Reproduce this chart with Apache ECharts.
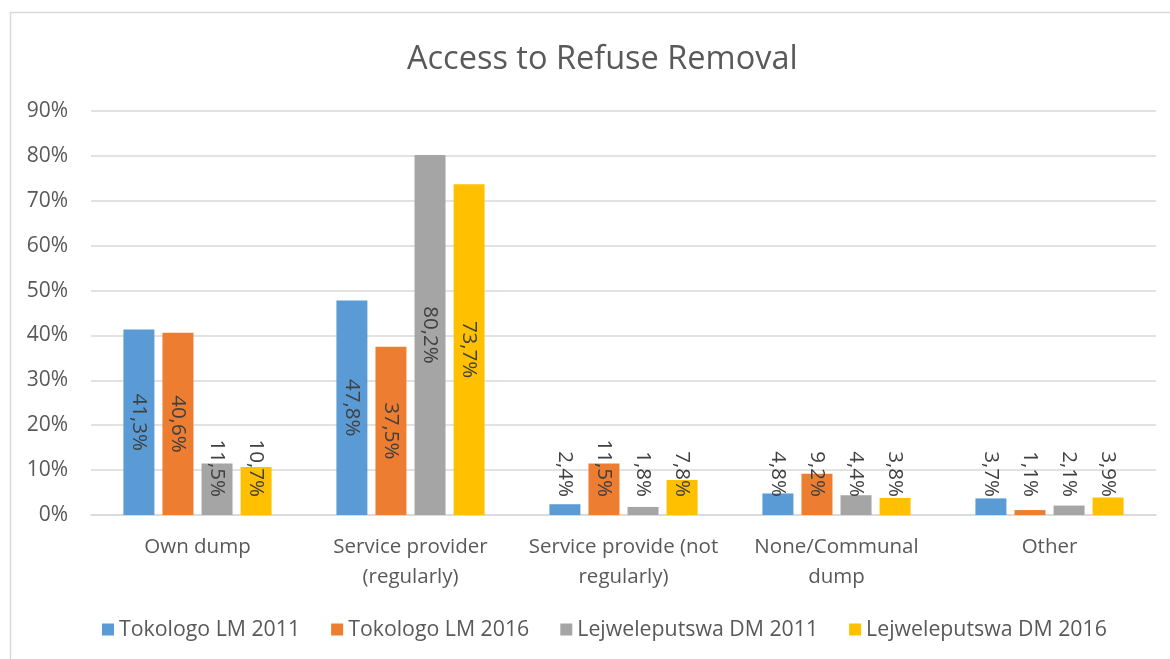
<!DOCTYPE html>
<html>
<head>
<meta charset="utf-8">
<script src="https://cdn.jsdelivr.net/npm/echarts@6/dist/echarts.min.js"></script>
<style>
  html, body { margin: 0; padding: 0; background: #ffffff; }
  #chart { width: 1170px; height: 659px; }
</style>
</head>
<body>
<div id="chart"></div>
<script>
const categories = ['Own dump', 'Service provider\n(regularly)', 'Service provide (not\nregularly)', 'None/Communal\ndump', 'Other'];
const seriesNames = ['Tokologo LM 2011', 'Tokologo LM 2016', 'Lejweleputswa DM 2011', 'Lejweleputswa DM 2016'];
const tokologo2011 = [41.3, 47.8, 2.4, 4.8, 3.7];
const tokologo2016 = [40.6, 37.5, 11.5, 9.2, 1.1];
const lejwe2011 = [11.5, 80.2, 1.8, 4.4, 2.1];
const lejwe2016 = [10.7, 73.7, 7.8, 3.8, 3.9];
const yTicks = [0, 10, 20, 30, 40, 50, 60, 70, 80, 90];

const colors = ['#5B9BD5', '#ED7D31', '#A5A5A5', '#FFC000'];
const FONT = '"Open Sans", "Noto Sans", sans-serif';

const insideLabel = { position: 'inside', rotate: -90, align: 'center', verticalAlign: 'middle' };
const bottomLabel = { position: 'insideBottom', distance: 18, rotate: -90, align: 'right', verticalAlign: 'middle' };

function makeSeries(name, values, i) {
  return {
    name: name,
    type: 'bar',
    barWidth: 31,
    barGap: '26%',
    itemStyle: { color: colors[i] },
    label: {
      show: true,
      color: '#404040',
      fontSize: 20.5,
      fontFamily: FONT,
      formatter: p => p.value.toFixed(1).replace('.', ',') + '%'
    },
    data: values.map(v => ({ value: v, label: v >= 20 ? insideLabel : bottomLabel }))
  };
}

const chart = echarts.init(document.getElementById('chart'), null, { renderer: 'canvas' });
chart.setOption({
  backgroundColor: '#ffffff',
  animation: false,
  textStyle: { fontFamily: FONT },
  graphic: [{
    type: 'rect',
    shape: { x: 10.5, y: 12.5, width: 1300, height: 800 },
    style: { fill: 'none', stroke: '#D9D9D9', lineWidth: 1.5 },
    silent: true,
    z: -10
  }],
  title: {
    text: 'Access to Refuse Removal',
    left: 402,
    top: 38,
    textStyle: { fontFamily: FONT, fontSize: 32.5, fontWeight: 'normal', color: '#595959' }
  },
  legend: {
    bottom: 14,
    left: 97,
    icon: 'rect',
    itemWidth: 12,
    itemHeight: 12,
    itemGap: 31,
    textStyle: { fontFamily: FONT, fontSize: 21.3, color: '#595959' },
    data: seriesNames
  },
  grid: { left: 91, right: 14, top: 111, bottom: 144, containLabel: false },
  xAxis: {
    type: 'category',
    data: categories,
    axisTick: { show: false },
    axisLine: { lineStyle: { color: '#D9D9D9', width: 1.5 } },
    axisLabel: { color: '#595959', fontSize: 20.5, lineHeight: 30, margin: 17, interval: 0, fontFamily: FONT }
  },
  yAxis: {
    type: 'value',
    min: yTicks[0],
    max: yTicks[yTicks.length - 1],
    interval: 10,
    axisLine: { show: false },
    axisTick: { show: false },
    splitLine: { lineStyle: { color: '#D9D9D9', width: 1.5 } },
    axisLabel: { color: '#595959', fontSize: 21, margin: 23, fontFamily: FONT, formatter: v => v + '%' }
  },
  series: [
    makeSeries(seriesNames[0], tokologo2011, 0),
    makeSeries(seriesNames[1], tokologo2016, 1),
    makeSeries(seriesNames[2], lejwe2011, 2),
    makeSeries(seriesNames[3], lejwe2016, 3)
  ]
});
</script>
</body>
</html>
